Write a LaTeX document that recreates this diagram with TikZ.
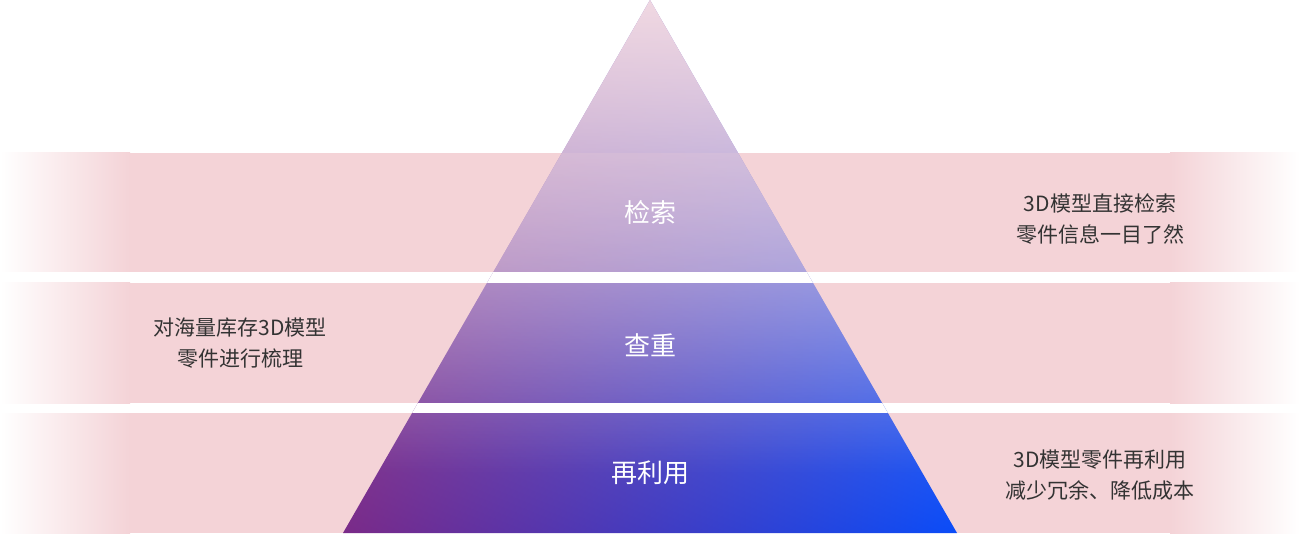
\documentclass[tikz,border=0pt]{standalone}
\usepackage{fontspec}
\setmainfont{Noto Sans CJK SC}
\usetikzlibrary{fadings,shadings}
\definecolor{band}{HTML}{F4D3D7}
\definecolor{pl}{HTML}{7A2A88}
\definecolor{pr}{HTML}{0A4CF8}
\definecolor{ptop}{HTML}{F0D8E2}
\definecolor{txt}{HTML}{333333}
\tikzset{
 side/.style={text=txt,font=\fontsize{21}{31}\selectfont,align=center},
 lvl/.style={text=white,font=\fontsize{26}{30}\selectfont}
}
\begin{document}
\begin{tikzpicture}[x=1pt,y=1pt]
\useasboundingbox (0,0) rectangle (1300,533);
% bands
\foreach \t/\b in {153/272,283/403,413/533}{
  \fill[band] (128,533-\b) rectangle (1172,533-\t);
  \shade[left color=white,right color=band] (0,533-\b) rectangle (130,533-\t);
  \shade[left color=band,right color=white] (1170,533-\b) rectangle (1300,533-\t);
}
% pyramid
\begin{scope}
\clip (650,533) -- (343,0) -- (957,0) -- cycle;
\shade[lower left=pl,lower right=pr,upper left=pl!60!ptop,upper right=pr!40!ptop] (343,0) rectangle (957,533);
\fill[ptop,path fading=south] (343,60) rectangle (957,533);
\fill[band,opacity=0.2] (343,261) rectangle (957,380);
\fill[white] (343,250) rectangle (957,261);
\fill[white] (343,120) rectangle (957,130);
\end{scope}
\node[lvl] (l1) at (650,320) {检索};
\node[lvl] (l2) at (650,188) {查重};
\node[lvl] (l3) at (650,60) {再利用};
\node[side] (r1) at (1100,314) {3D模型直接检索\\零件信息一目了然};
\node[side] (lf) at (240,190) {对海量库存3D模型\\零件进行梳理};
\node[side] (r3) at (1100,58) {3D模型零件再利用\\减少冗余、降低成本};
\end{tikzpicture}
\end{document}
